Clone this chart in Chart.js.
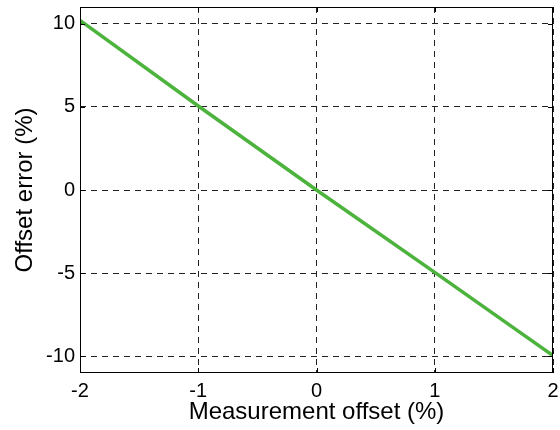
<!DOCTYPE html>
<html>
<head>
<meta charset="utf-8">
<script src="https://cdn.jsdelivr.net/npm/chart.js@4.4.0/dist/chart.umd.min.js"></script>
<style>
  html, body { margin: 0; padding: 0; background: #fff; }
  #wrap { width: 560px; height: 430px; }
</style>
</head>
<body>
<div id="wrap"><canvas id="offsetChart" width="560" height="430"></canvas></div>
<script>
// measurement offset (%) vs resulting offset error (%)
const offsetPct = [-2, -1, 0, 1, 2];
const errorPct  = [10.2, 5.05, 0, -4.95, -9.95];
const xTicks = [-2, -1, 0, 1, 2];
const yTicks = [-10, -5, 0, 5, 10];

const FONT = 'Liberation Sans, Arial, sans-serif';

// solid box round the plot plus short inward ticks, matlab style
const boxPlugin = {
  id: 'boxTicks',
  afterDatasetsDraw(chart) {
    const { ctx, chartArea: a, scales: { x, y } } = chart;
    ctx.save();
    ctx.strokeStyle = '#000';
    ctx.lineWidth = 1;
    ctx.setLineDash([]);
    ctx.strokeRect(a.left + 0.5, a.top + 0.5, a.right - a.left - 1, a.bottom - a.top - 1);
    const len = 5;
    ctx.beginPath();
    xTicks.forEach(v => {
      const px = Math.round(x.getPixelForValue(v)) + 0.5;
      ctx.moveTo(px, a.bottom); ctx.lineTo(px, a.bottom - len);
      ctx.moveTo(px, a.top); ctx.lineTo(px, a.top + len);
    });
    yTicks.forEach(v => {
      const py = Math.round(y.getPixelForValue(v)) + 0.5;
      ctx.moveTo(a.left, py); ctx.lineTo(a.left + len, py);
      ctx.moveTo(a.right, py); ctx.lineTo(a.right - len, py);
    });
    ctx.stroke();
    ctx.restore();
  }
};

new Chart(document.getElementById('offsetChart'), {
  type: 'line',
  data: {
    datasets: [{
      data: offsetPct.map((v, i) => ({ x: v, y: errorPct[i] })),
      borderColor: '#4cb33c',
      borderWidth: 3.5,
      pointRadius: 0,
      tension: 0,
      fill: false
    }]
  },
  options: {
    responsive: false,
    animation: false,
    layout: { padding: { top: 7, right: 7, left: 0, bottom: 0 } },
    plugins: { legend: { display: false }, tooltip: { enabled: false } },
    scales: {
      x: {
        type: 'linear', min: -2, max: 2,
        afterBuildTicks: s => { s.ticks = xTicks.map(v => ({ value: v })); },
        afterFit: s => { s.height = 57; s.paddingLeft = 0; s.paddingRight = 0; },
        grid: { color: '#222', lineWidth: 1, drawTicks: false, tickLength: 0 },
        border: { display: false, dash: [6, 5] },
        ticks: { color: '#000', font: { family: FONT, size: 20 }, padding: 6, maxRotation: 0 },
        title: { display: true, text: 'Measurement offset (%)', color: '#000', font: { family: FONT, size: 24 }, padding: { top: 0, bottom: 3 } }
      },
      y: {
        type: 'linear', min: -11, max: 11,
        afterBuildTicks: s => { s.ticks = yTicks.map(v => ({ value: v })); },
        afterFit: s => { s.width = 80; s.paddingTop = 0; s.paddingBottom = 0; },
        grid: { color: '#222', lineWidth: 1, drawTicks: false, tickLength: 0 },
        border: { display: false, dash: [6, 5] },
        ticks: { color: '#000', font: { family: FONT, size: 20 }, padding: 5 },
        title: { display: true, text: 'Offset error (%)', color: '#000', font: { family: FONT, size: 24 }, padding: { top: 11, bottom: 0 } }
      }
    }
  },
  plugins: [boxPlugin]
});
</script>
</body>
</html>
